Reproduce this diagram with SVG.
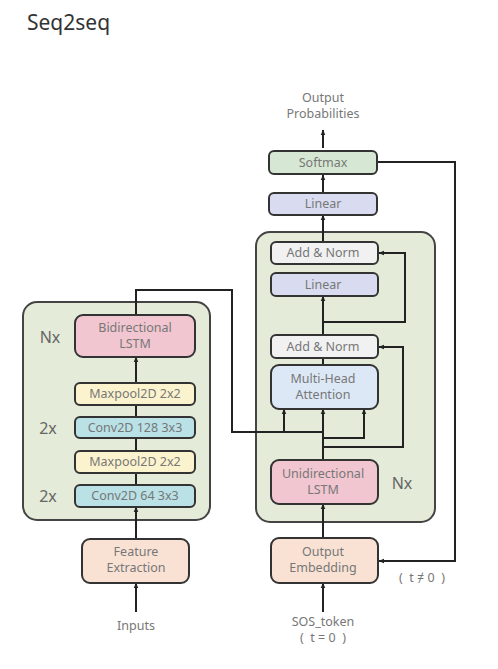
<svg xmlns="http://www.w3.org/2000/svg" width="498" height="669" viewBox="0 0 498 669">
<defs>
<marker id="arr" viewBox="0 0 10 10" refX="9" refY="5" markerWidth="6" markerHeight="6" orient="auto" markerUnits="userSpaceOnUse">
<path d="M0,1 L10,5 L0,9 z" fill="#222"/>
</marker>
<style>
text{font-family:"Noto Sans","DejaVu Sans",sans-serif;fill:#777;font-size:12.5px;text-anchor:middle}
.title{font-size:21px;fill:#333;text-anchor:start}
.mult{font-size:16px;fill:#666}
.box{stroke:#333;stroke-width:2}
.cont{fill:#e4ebd8;stroke:#444;stroke-width:2}
.ln{fill:none;stroke:#222;stroke-width:2}
.green{fill:#d6e8d3}
.lav{fill:#d9dcf0}
.gray{fill:#f1f1f1}
.blue{fill:#dce8f6}
.pink{fill:#f1c6d0}
.peach{fill:#f9e2d4}
.yellow{fill:#fbf3cd}
.teal{fill:#b9e1e6}
</style>
</defs>
<rect width="498" height="669" fill="#fff"/>
<text class="title" x="27" y="30">Seq2seq</text>

<g id="encoder-container"><rect class="cont" x="23" y="302" width="187" height="218" rx="14"/></g>
<g id="decoder-container"><rect class="cont" x="256" y="232" width="179" height="290" rx="14"/></g>

<g id="connectors">
<line class="ln" x1="323" y1="148" x2="323" y2="130" marker-end="url(#arr)"/>
<line class="ln" x1="323" y1="193" x2="323" y2="175" marker-end="url(#arr)"/>
<line class="ln" x1="323" y1="242" x2="323" y2="215" marker-end="url(#arr)"/>
<line class="ln" x1="323" y1="334" x2="323" y2="296" marker-end="url(#arr)"/>
<polyline class="ln" points="323,322 405,322 405,253 379,253" marker-end="url(#arr)"/>
<line class="ln" x1="323" y1="365" x2="323" y2="358"/>
<polyline class="ln" points="323,447 403,447 403,347 379,347" marker-end="url(#arr)"/>
<line class="ln" x1="323" y1="460" x2="323" y2="432"/>
<line class="ln" x1="323" y1="432" x2="323" y2="409" marker-end="url(#arr)"/>
<line class="ln" x1="284" y1="432" x2="284" y2="409" marker-end="url(#arr)"/>
<polyline class="ln" points="323,438 364,438 364,409" marker-end="url(#arr)"/>
<polyline class="ln" points="136,315 136,290 232,290 232,432 323,432"/>
<line class="ln" x1="323" y1="538" x2="323" y2="504" marker-end="url(#arr)"/>
<polyline class="ln" points="378,162 455,162 455,561 379,561" marker-end="url(#arr)"/>
<line class="ln" x1="323" y1="612" x2="323" y2="583" marker-end="url(#arr)"/>
<line class="ln" x1="136" y1="383" x2="136" y2="357" marker-end="url(#arr)"/>
<line class="ln" x1="136" y1="417" x2="136" y2="405"/>
<line class="ln" x1="136" y1="451" x2="136" y2="438"/>
<line class="ln" x1="136" y1="485" x2="136" y2="473"/>
<line class="ln" x1="136" y1="539" x2="136" y2="507" marker-end="url(#arr)"/>
<line class="ln" x1="136" y1="612" x2="136" y2="583" marker-end="url(#arr)"/>
</g>

<g id="output-probabilities"><text x="323" y="102">Output</text><text x="323" y="118">Probabilities</text></g>
<g id="softmax"><rect class="box green" x="269" y="151" width="108" height="23" rx="5"/><text x="323" y="167">Softmax</text></g>
<g id="linear-top"><rect class="box lav" x="269" y="193" width="108" height="22" rx="5"/><text x="323" y="208">Linear</text></g>
<g id="add-norm-1"><rect class="box gray" x="271" y="242" width="107" height="22" rx="5"/><text x="323" y="257">Add &amp; Norm</text></g>
<g id="linear-inner"><rect class="box lav" x="271" y="273" width="107" height="23" rx="5"/><text x="323" y="289">Linear</text></g>
<g id="add-norm-2"><rect class="box gray" x="271" y="335" width="107" height="23" rx="5"/><text x="323" y="351">Add &amp; Norm</text></g>
<g id="multi-head-attention"><rect class="box blue" x="271" y="365" width="107" height="44" rx="8"/><text x="323" y="383">Multi-Head</text><text x="323" y="399">Attention</text></g>
<g id="unidirectional-lstm"><rect class="box pink" x="271" y="460" width="107" height="44" rx="8"/><text x="323" y="478">Unidirectional</text><text x="323" y="494">LSTM</text></g>
<g id="nx-decoder"><text class="mult" x="402" y="489">Nx</text></g>
<g id="output-embedding"><rect class="box peach" x="271" y="538" width="107" height="45" rx="8"/><text x="323" y="556">Output</text><text x="323" y="572">Embedding</text></g>
<g id="t-neq-0"><text x="422" y="582" xml:space="preserve">(  t ≠ 0  )</text></g>
<g id="sos-token"><text x="323" y="626">SOS_token</text><text x="323" y="642" xml:space="preserve">(  t = 0  )</text></g>

<g id="bidirectional-lstm"><rect class="box pink" x="75" y="315" width="120" height="42" rx="8"/><text x="135" y="332">Bidirectional</text><text x="135" y="348">LSTM</text></g>
<g id="nx-encoder"><text class="mult" x="50" y="343">Nx</text></g>
<g id="maxpool-1"><rect class="box yellow" x="75" y="383" width="120" height="22" rx="5"/><text x="135" y="398">Maxpool2D 2x2</text></g>
<g id="conv-128"><rect class="box teal" x="75" y="417" width="120" height="21" rx="5"/><text x="135" y="432">Conv2D 128 3x3</text></g>
<g id="two-x-1"><text class="mult" x="48" y="434">2x</text></g>
<g id="maxpool-2"><rect class="box yellow" x="75" y="451" width="120" height="22" rx="5"/><text x="135" y="466">Maxpool2D 2x2</text></g>
<g id="conv-64"><rect class="box teal" x="75" y="485" width="120" height="22" rx="5"/><text x="135" y="500">Conv2D 64 3x3</text></g>
<g id="two-x-2"><text class="mult" x="48" y="502">2x</text></g>
<g id="feature-extraction"><rect class="box peach" x="82" y="539" width="107" height="44" rx="8"/><text x="136" y="556">Feature</text><text x="136" y="572">Extraction</text></g>
<g id="inputs"><text x="136" y="630">Inputs</text></g>
</svg>
